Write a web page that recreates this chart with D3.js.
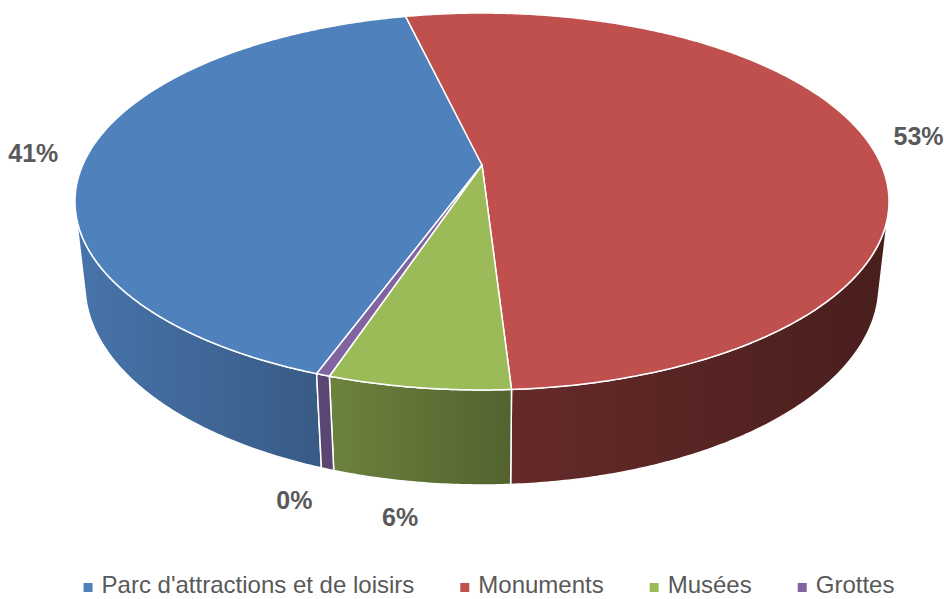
<!DOCTYPE html>
<html>
<head>
<meta charset="utf-8">
<script src="https://cdnjs.cloudflare.com/ajax/libs/d3/7.8.5/d3.min.js"></script>
<style>
  body { margin: 0; background: #fff; }
  svg { display: block; }
</style>
</head>
<body>
<script>
// data (percent of total)
var categories = ["Parc d'attractions et de loisirs", "Monuments", "Musées", "Grottes"];
var shares = [40.85, 52.7, 6.0, 0.45];
var colors = ["#4F81BD", "#C0504D", "#9BBB59", "#8064A2"];
var startDeg = 199.8; // first slice angle, clockwise from 12 o'clock

var width = 944, height = 599;

var svg = d3.select("body")
    .append("svg")
    .attr("width", width)
    .attr("height", height);

// perspective of the tilted disc: r = radius (0..1), t = angle, h = 0 top / 1 bottom
var cx = 482, cy = 165;
var persp = { a: 399.3, b: 181.4, k: 0.1936, m: 0.0243, g: 84.4 };
var proj = (r, t, h) => {
    var u = r * Math.sin(t), v = -r * Math.cos(t);
    var w = 1 - persp.k * v + persp.m * h;
    return [cx + persp.a * u / w, cy + (persp.b * v + persp.g * h) / w];
};

var arcPts = (r, t0, t1, h) => {
    var n = Math.max(2, Math.ceil(Math.abs(t1 - t0) / (Math.PI / 360)));
    return d3.range(n + 1).map(i => proj(r, t0 + (t1 - t0) * i / n, h));
};

// which part of the cylinder wall faces the viewer
var facing = t => {
    var e = 1e-4;
    var T0 = proj(1, t, 0), T1 = proj(1, t + e, 0), B0 = proj(1, t, 1);
    return (T1[0] - T0[0]) * (B0[1] - T0[1]) - (T1[1] - T0[1]) * (B0[0] - T0[0]);
};
var bisect = (lo, hi) => {
    for (var i = 0; i < 60; i++) {
        var mid = (lo + hi) / 2;
        if ((facing(lo) < 0) === (facing(mid) < 0)) lo = mid; else hi = mid;
    }
    return (lo + hi) / 2;
};
var tL = bisect(0.01, Math.PI), tR = bisect(Math.PI, 2 * Math.PI - 0.01);

var data = categories.map((c, i) => ({ name: c, value: shares[i], color: colors[i] }));
var total = d3.sum(shares);

var start = startDeg * Math.PI / 180;
var pie = d3.pie()
    .sort(null)
    .value(d => d.value)
    .startAngle(start)
    .endAngle(start + 2 * Math.PI);
var arcs = pie(data);

var line = d3.line();

// side shading, darker toward the right
var defs = svg.append("defs");
var shade = [[0, 0.9], [0.28, 0.72], [0.55, 0.52], [1, 0.38]];
data.forEach((d, i) => {
    var grad = defs.append("linearGradient")
        .attr("id", "side" + i)
        .attr("gradientUnits", "userSpaceOnUse")
        .attr("x1", 75).attr("x2", 890).attr("y1", 0).attr("y2", 0);
    var c = d3.rgb(d.color);
    shade.forEach(s => {
        grad.append("stop")
            .attr("offset", s[0])
            .attr("stop-color", d3.rgb(c.r * s[1], c.g * s[1], c.b * s[1]).formatHex());
    });
});

// side walls
var sides = [];
arcs.forEach((a, i) => {
    [0, 2 * Math.PI].forEach(o => {
        var lo = Math.max(a.startAngle, tL + o), hi = Math.min(a.endAngle, tR + o);
        if (lo < hi) sides.push({ i: i, lo: lo, hi: hi });
    });
});

svg.append("g")
    .selectAll("path")
    .data(sides)
    .enter()
    .append("path")
    .attr("d", s => line(arcPts(1, s.lo, s.hi, 0).concat(arcPts(1, s.hi, s.lo, 1))) + "Z")
    .attr("fill", s => "url(#side" + s.i + ")")
    .attr("stroke", "#fff")
    .attr("stroke-width", 1.5)
    .attr("stroke-linejoin", "round");

// top faces
svg.append("g")
    .selectAll("path")
    .data(arcs)
    .enter()
    .append("path")
    .attr("d", a => line([proj(0, 0, 0)].concat(arcPts(1, a.startAngle, a.endAngle, 0))) + "Z")
    .attr("fill", a => a.data.color)
    .attr("stroke", "#fff")
    .attr("stroke-width", 1.5)
    .attr("stroke-linejoin", "round");

// percentage labels, outside end
var fmt = d3.format(".0%");
svg.append("g")
    .selectAll("text")
    .data(arcs)
    .enter()
    .append("text")
    .each(function (a) {
        var mid = (a.startAngle + a.endAngle) / 2;
        var front = -Math.cos(mid) > 0.5;
        var p = front ? proj(1.12, mid + 0.02, 1) : proj(1.14, mid, 0);
        d3.select(this).attr("x", p[0]).attr("y", p[1]);
    })
    .attr("text-anchor", "middle")
    .attr("dominant-baseline", "central")
    .attr("font-family", "'Liberation Sans', Arial, sans-serif")
    .attr("font-weight", "bold")
    .attr("font-size", "25px")
    .attr("fill", "#595959")
    .text(a => fmt(a.value / total));

// legend
var legend = svg.append("g").attr("class", "legend");
var items = legend.selectAll("g")
    .data(data)
    .enter()
    .append("g");
items.append("rect")
    .attr("width", 9)
    .attr("height", 9)
    .attr("y", -10)
    .attr("fill", d => d.color);
items.append("text")
    .attr("x", 18)
    .attr("font-family", "'Liberation Sans', Arial, sans-serif")
    .attr("font-size", "24px")
    .attr("fill", "#595959")
    .text(d => d.name);

var gap = 46, xpos = 0;
items.each(function () {
    var w = 18 + this.querySelector("text").getComputedTextLength();
    d3.select(this).attr("transform", "translate(" + xpos + ",0)");
    xpos += w + gap;
});
var legW = xpos - gap;
legend.attr("transform", "translate(" + (489 - legW / 2) + ",593)");
</script>
</body>
</html>
